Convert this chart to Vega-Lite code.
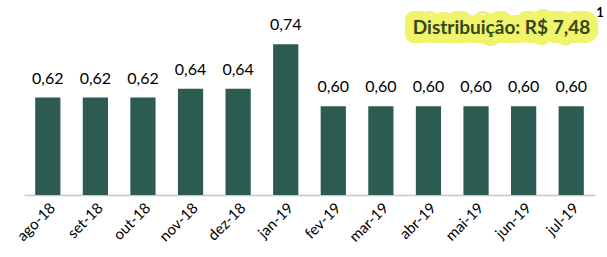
{
  "$schema": "https://vega.github.io/schema/vega-lite/v6.json",
  "width": 571,
  "height": 195,
  "autosize": {"type": "none"},
  "padding": {"left": 24, "top": 0, "right": 12, "bottom": 62},
  "background": "white",
  "config": {
    "view": {"stroke": null},
    "font": "Lato",
    "locale": {"number": {"decimal": ",", "thousands": ".", "grouping": [3], "currency": ["R$ ", ""]}}
  },
  "data": {
    "values": [
      {"mes": "ago-18", "valor": 0.62},
      {"mes": "set-18", "valor": 0.62},
      {"mes": "out-18", "valor": 0.62},
      {"mes": "nov-18", "valor": 0.64},
      {"mes": "dez-18", "valor": 0.64},
      {"mes": "jan-19", "valor": 0.74},
      {"mes": "fev-19", "valor": 0.60},
      {"mes": "mar-19", "valor": 0.60},
      {"mes": "abr-19", "valor": 0.60},
      {"mes": "mai-19", "valor": 0.60},
      {"mes": "jun-19", "valor": 0.60},
      {"mes": "jul-19", "valor": 0.60}
    ]
  },
  "encoding": {
    "x": {
      "field": "mes", "type": "nominal", "sort": null, "title": null,
      "scale": {"paddingInner": 0.47, "paddingOuter": 0.235},
      "axis": {"labelAngle": -45, "labelFontSize": 15, "labelColor": "#000000", "ticks": false, "domainColor": "#c8c8c8", "domainWidth": 1.5, "labelPadding": 5, "labelFont": "Lato"}
    }
  },
  "layer": [
    {
      "mark": {"type": "bar", "color": "#2c5b52"},
      "encoding": {
        "y": {"field": "valor", "type": "quantitative", "scale": {"domain": [0.4, 0.84], "zero": false, "nice": false}, "axis": null},
        "y2": {"datum": 0.4}
      }
    },
    {
      "mark": {"type": "text", "fontSize": 16, "dy": -14, "baseline": "alphabetic", "color": "#000000"},
      "encoding": {
        "y": {"field": "valor", "type": "quantitative"},
        "text": {"field": "valor", "type": "quantitative", "format": ".2f"}
      }
    },
    {
      "transform": [{"filter": "datum.mes == 'jul-19'"}],
      "mark": {"type": "text", "text": "Distribuição: R$ 7,48", "fontSize": 19, "fontWeight": "bold", "align": "right", "baseline": "middle", "dx": 19, "color": "#eef35a", "stroke": "#eef35a", "strokeWidth": 18, "strokeJoin": "round", "opacity": 0.9},
      "encoding": {"y": {"datum": 0.777, "type": "quantitative"}}
    },
    {
      "transform": [{"filter": "datum.mes == 'jul-19'"}],
      "mark": {"type": "text", "text": "Distribuição: R$ 7,48", "fontSize": 19, "fontWeight": "bold", "align": "right", "baseline": "middle", "dx": 19, "color": "#34461a"},
      "encoding": {"y": {"datum": 0.777, "type": "quantitative"}}
    },
    {
      "transform": [{"filter": "datum.mes == 'jul-19'"}],
      "mark": {"type": "text", "text": "1", "fontSize": 13, "fontWeight": "bold", "align": "left", "baseline": "middle", "dx": 25, "color": "#000000"},
      "encoding": {"y": {"datum": 0.81, "type": "quantitative"}}
    }
  ]
}
